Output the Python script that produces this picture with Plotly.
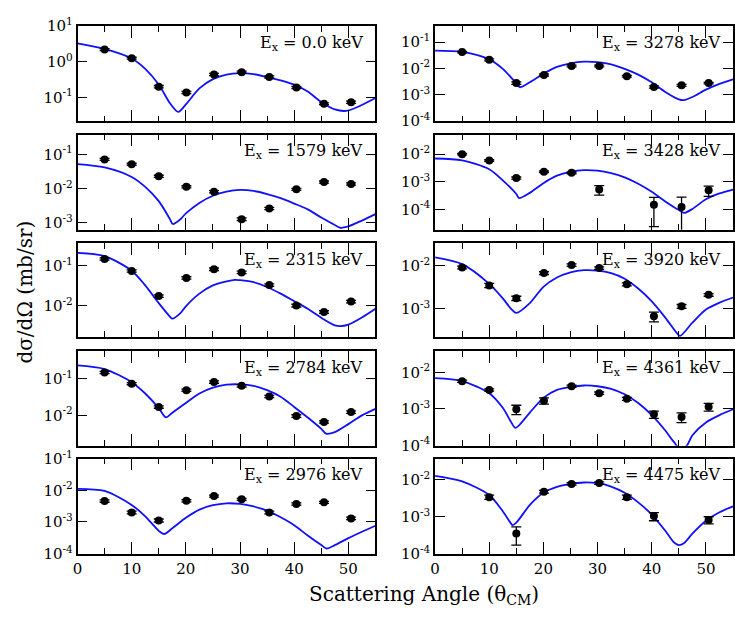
import plotly.graph_objects as go

# ---------------- data ----------------
angles10 = [5.0, 10.0, 15.0, 20.1, 25.2, 30.3, 35.4, 40.4, 45.5, 50.5]

# Ex = 0.0 keV
e0000_x = angles10
e0000_y = [2.2, 1.26, 0.2, 0.137, 0.44, 0.51, 0.375, 0.19, 0.066, 0.073]
e0000_err = [0.15, 0.08, 0.015, 0.01, 0.03, 0.035, 0.025, 0.013, 0.004, 0.005]
e0000_tx = [0, 5, 10, 12.5, 15, 17, 18.6, 20, 22.5, 25, 27.5, 30, 32.5, 35, 37.5, 40, 42.5, 45, 47.5, 49.6, 52, 55]
e0000_ty = [3.31, 2.29, 1.23, 0.631, 0.229, 0.0708, 0.0389, 0.0631, 0.178, 0.324, 0.437, 0.479, 0.447, 0.372,
            0.302, 0.229, 0.145, 0.0741, 0.0457, 0.0417, 0.0562, 0.0955]

# Ex = 1579 keV
e1579_x = angles10
e1579_y = [0.072, 0.052, 0.023, 0.0113, 0.0081, 0.00126, 0.0026, 0.0095, 0.0156, 0.0137]
e1579_err = [0.005, 0.0035, 0.0016, 0.0008, 0.0006, 0.00012, 0.0002, 0.0007, 0.0011, 0.001]
e1579_tx = [0, 5, 10, 12.5, 15, 17, 17.6, 19, 20, 22.5, 25, 27.5, 30, 32.5, 35, 37.5, 40, 42.5, 45, 47.5, 48.5, 50, 52.5, 55]
e1579_ty = [0.0525, 0.0417, 0.0219, 0.0112, 0.00427, 0.00132, 0.000912, 0.00126, 0.00186, 0.0038, 0.00617,
            0.00813, 0.00912, 0.00851, 0.00692, 0.00525, 0.00363, 0.00245, 0.00141, 0.000851, 0.000708,
            0.000776, 0.00115, 0.00178]

# Ex = 2315 keV
e2315_x = angles10
e2315_y = [0.151, 0.075, 0.0174, 0.05, 0.083, 0.069, 0.033, 0.01, 0.0069, 0.0126]
e2315_err = [0.01, 0.005, 0.0013, 0.0035, 0.006, 0.005, 0.0025, 0.0008, 0.0005, 0.0009]
e2315_tx = [0, 5, 10, 12.5, 15, 17, 17.5, 19, 20, 22.5, 25, 27.5, 29, 30, 32.5, 35, 37.5, 40, 42.5, 45, 47.5, 48.5, 50, 52.5, 55]
e2315_ty = [0.214, 0.178, 0.0759, 0.0324, 0.0115, 0.00537, 0.00468, 0.00646, 0.00955, 0.02, 0.0324, 0.0407,
            0.0447, 0.0437, 0.0389, 0.0295, 0.02, 0.0129, 0.00832, 0.0049, 0.00316, 0.00302, 0.00331, 0.00501, 0.00832]

# Ex = 2784 keV
e2784_x = angles10
e2784_y = [0.15, 0.074, 0.017, 0.049, 0.082, 0.065, 0.033, 0.0096, 0.0066, 0.0123]
e2784_err = [0.01, 0.005, 0.0013, 0.0035, 0.006, 0.005, 0.0025, 0.0008, 0.0005, 0.0009]
e2784_tx = [0, 5, 10, 12.5, 15, 16.3, 17.5, 20, 22.5, 25, 27.5, 30, 32.5, 35, 37.5, 40, 42.5, 45, 45.9, 47.5, 50, 52.5, 55]
e2784_ty = [0.234, 0.186, 0.0813, 0.0398, 0.0158, 0.0088, 0.0118, 0.0219, 0.0398, 0.0575, 0.0692, 0.0708,
            0.0646, 0.049, 0.0324, 0.017, 0.00871, 0.00427, 0.00316, 0.00347, 0.00575, 0.01, 0.0151]

# Ex = 2976 keV
e2976_x = angles10
e2976_y = [0.0046, 0.002, 0.00112, 0.0047, 0.0066, 0.0052, 0.002, 0.0037, 0.0042, 0.0013]
e2976_err = [0.0004, 0.0002, 0.00012, 0.0004, 0.0005, 0.0004, 0.0002, 0.0003, 0.0003, 0.00012]
e2976_tx = [0, 5, 10, 12.5, 15, 16, 17.5, 20, 22.5, 25, 27.5, 30, 32.5, 35, 37.5, 40, 42.5, 45, 46, 47.5, 50, 52.5, 55]
e2976_ty = [0.0112, 0.00955, 0.00347, 0.00151, 0.000525, 0.000417, 0.000631, 0.00135, 0.00245, 0.00339, 0.00389,
            0.00372, 0.00309, 0.00229, 0.00141, 0.000794, 0.000372, 0.000186, 0.000145, 0.000186, 0.000309,
            0.00049, 0.000759]

# Ex = 3278 keV
e3278_x = angles10
e3278_y = [0.042, 0.0214, 0.0028, 0.0057, 0.0125, 0.0125, 0.0051, 0.002, 0.0023, 0.0028]
e3278_err = [0.003, 0.0017, 0.0003, 0.0005, 0.0009, 0.0009, 0.0004, 0.0002, 0.0002, 0.0002]
e3278_tx = [0, 5, 10, 12.5, 15, 15.7, 17.5, 20, 22.5, 25, 27.5, 30, 32.5, 35, 37.5, 40, 42.5, 45, 45.9, 47.5, 50, 52.5, 55]
e3278_ty = [0.0482, 0.0427, 0.0224, 0.00977, 0.00275, 0.00195, 0.00302, 0.00631, 0.0115, 0.0158, 0.0182, 0.0174,
            0.0145, 0.00977, 0.00589, 0.00302, 0.00129, 0.000676, 0.000631, 0.000832, 0.00158, 0.00263, 0.00389]

# Ex = 3428 keV
e3428_x = [5.0, 10.0, 15.0, 20.1, 25.2, 30.3, 40.4, 45.5, 50.5]
e3428_y = [0.0099, 0.0059, 0.00137, 0.0023, 0.0021, 0.00053, 0.000149, 0.000123, 0.0005]
e3428_err = [0.0006, 0.0004, 0.00012, 0.00015, 0.00015, 0.0002, 0.000125, 0.000155, 0.0002]
e3428_tx = [0, 5, 10, 12.5, 15, 15.5, 17.5, 20, 22.5, 25, 27.5, 30, 32.5, 35, 37.5, 40, 42.5, 45, 46, 47.5, 50, 52.5, 55]
e3428_ty = [0.00692, 0.00589, 0.00282, 0.00112, 0.000363, 0.000257, 0.000398, 0.000891, 0.00166, 0.00229,
            0.00263, 0.00251, 0.00204, 0.00145, 0.000851, 0.000437, 0.000195, 0.0000955, 0.0000759, 0.000105,
            0.000234, 0.00038, 0.000525]

# Ex = 3920 keV
e3920_x = angles10
e3920_y = [0.0092, 0.0035, 0.00175, 0.0068, 0.0105, 0.0089, 0.0037, 0.00066, 0.00113, 0.0021]
e3920_err = [0.0007, 0.0004, 0.0002, 0.0005, 0.0007, 0.0006, 0.0003, 0.00017, 0.00012, 0.00015]
e3920_tx = [0, 5, 10, 12.5, 14, 15, 17.5, 20, 22.5, 25, 27.5, 30, 32.5, 35, 37.5, 40, 42.5, 44.5, 45.2, 47.5, 50, 52.5, 55]
e3920_ty = [0.0158, 0.011, 0.0038, 0.00174, 0.001, 0.000794, 0.00135, 0.00324, 0.00537, 0.00708, 0.00794,
            0.00776, 0.00676, 0.00501, 0.00295, 0.00148, 0.000617, 0.000282, 0.000229, 0.000468, 0.000955,
            0.00138, 0.00182]

# Ex = 4361 keV
e4361_x = angles10
e4361_y = [0.0057, 0.0033, 0.00098, 0.00168, 0.0042, 0.0027, 0.0019, 0.00071, 0.0006, 0.00114]
e4361_err = [0.0004, 0.00025, 0.00028, 0.00033, 0.0003, 0.0002, 0.00018, 0.00016, 0.00018, 0.00027]
e4361_tx = [0, 5, 10, 12.5, 14, 14.8, 15.5, 17.5, 20, 22.5, 25, 27.5, 30, 32.5, 35, 37.5, 40, 42.5, 44, 45.3, 46.5, 47.5, 50, 52.5, 55]
e4361_ty = [0.00692, 0.00575, 0.00269, 0.00107, 0.000447, 0.000302, 0.000355, 0.000794, 0.002, 0.00331, 0.00398,
            0.00437, 0.00417, 0.00355, 0.00251, 0.00145, 0.000676, 0.000257, 0.000129, 0.0000794, 0.0001,
            0.000191, 0.000427, 0.000676, 0.000977]

# Ex = 4475 keV
e4475_x = [10.0, 15.0, 20.1, 25.2, 30.3, 35.4, 40.4, 50.5]
e4475_y = [0.0034, 0.00035, 0.0048, 0.0078, 0.0082, 0.0034, 0.00104, 0.00082]
e4475_err = [0.00045, 0.00018, 0.0004, 0.0006, 0.0006, 0.00045, 0.00026, 0.00018]
e4475_tx = [0, 5, 10, 12.5, 14, 14.3, 15, 17.5, 20, 22.5, 25, 27.5, 30, 32.5, 35, 37.5, 40, 42.5, 44, 45, 46, 47.5, 50, 52.5, 55]
e4475_ty = [0.0129, 0.00912, 0.00389, 0.00141, 0.000661, 0.000589, 0.000692, 0.00209, 0.00447, 0.00646, 0.00776,
            0.00851, 0.00813, 0.00661, 0.00447, 0.00245, 0.00115, 0.000417, 0.000209, 0.00017, 0.000195,
            0.000347, 0.000776, 0.00132, 0.00191]

labels = ["0.0", "3278", "1579", "3428", "2315", "3920", "2784", "4361", "2976", "4475"]

# y axis ranges (log10 exponents) per panel, row-major order
yranges = [[-1.675, 1.005], [-4.005, -0.385],
           [-3.21, -0.415], [-4.73, -1.30],
           [-2.80, -0.415], [-3.67, -1.46],
           [-2.83, -0.23], [-4.005, -1.41],
           [-4.005, -0.995], [-4.005, -1.42]]
ytickexps = [[1, 0, -1], [-1, -2, -3, -4],
             [-1, -2, -3], [-2, -3, -4],
             [-1, -2], [-2, -3],
             [-1, -2], [-2, -3, -4],
             [-1, -2, -3, -4], [-2, -3, -4]]
xticks = [0, 10, 20, 30, 40, 50]

panels = [
    (e0000_x, e0000_y, e0000_err, e0000_tx, e0000_ty),
    (e3278_x, e3278_y, e3278_err, e3278_tx, e3278_ty),
    (e1579_x, e1579_y, e1579_err, e1579_tx, e1579_ty),
    (e3428_x, e3428_y, e3428_err, e3428_tx, e3428_ty),
    (e2315_x, e2315_y, e2315_err, e2315_tx, e2315_ty),
    (e3920_x, e3920_y, e3920_err, e3920_tx, e3920_ty),
    (e2784_x, e2784_y, e2784_err, e2784_tx, e2784_ty),
    (e4361_x, e4361_y, e4361_err, e4361_tx, e4361_ty),
    (e2976_x, e2976_y, e2976_err, e2976_tx, e2976_ty),
    (e4475_x, e4475_y, e4475_err, e4475_tx, e4475_ty),
]

# ---------------- layout ----------------
W, H = 735, 626
col_px = [(73, 373), (433, 733)]
row_px = [(15.5, 114), (127.7, 226), (239.5, 337), (351, 449), (462.3, 560.7)]
FONT = "DejaVu Serif"

fig = go.Figure()
layout = dict(
    width=W, height=H, margin=dict(l=0, r=0, t=0, b=0),
    paper_bgcolor="white", plot_bgcolor="white", showlegend=False,
    font=dict(family=FONT, size=15, color="black"),
)
annotations = []

for k, (px, py, perr, tx, ty) in enumerate(panels):
    i = k + 1
    r, c = divmod(k, 2)
    xs = "" if i == 1 else str(i)
    fig.add_trace(go.Scatter(
        x=tx, y=ty, mode="lines",
        line=dict(color="#1010ff", width=1.8, shape="spline", smoothing=0.8),
        xaxis="x" + xs, yaxis="y" + xs, hoverinfo="skip"))
    fig.add_trace(go.Scatter(
        x=px, y=py, mode="markers",
        marker=dict(color="black", size=8),
        error_y=dict(type="data", array=perr, visible=True, color="black", thickness=1.3, width=5),
        xaxis="x" + xs, yaxis="y" + xs))
    x0, x1 = col_px[c]
    y0, y1 = row_px[r]
    bottom = (r == 4)
    layout["xaxis" + xs] = dict(
        domain=[x0 / W, x1 / W], anchor="y" + xs, range=[0, 55],
        tickvals=xticks, ticks="inside", ticklen=12, tickwidth=1.3, tickcolor="black",
        minor=dict(dtick=5, tick0=0, ticks="inside", ticklen=6, tickwidth=1.3, tickcolor="black"),
        showticklabels=bottom, tickfont=dict(family=FONT, size=15),
        showline=True, linecolor="black", linewidth=1.5, mirror="ticks",
        showgrid=False, zeroline=False,
    )
    layout["yaxis" + xs] = dict(
        domain=[1 - y1 / H, 1 - y0 / H], anchor="x" + xs, type="log", range=yranges[k],
        tickvals=[10 ** e for e in ytickexps[k]],
        ticktext=["10<sup>%d</sup>" % e for e in ytickexps[k]],
        ticks="inside", ticklen=10, tickwidth=1.3, tickcolor="black",
        tickfont=dict(family=FONT, size=15),
        showline=True, linecolor="black", linewidth=1.5, mirror="ticks",
        showgrid=False, zeroline=False,
    )
    annotations.append(dict(
        text="E<sub>x</sub> = %s keV" % labels[k],
        xref="x%s domain" % xs, yref="y%s domain" % xs,
        x=0.965, y=0.95, xanchor="right", yanchor="top", showarrow=False,
        font=dict(family=FONT, size=16, color="black")))

annotations.append(dict(
    text="dσ/dΩ (mb/sr)", xref="paper", yref="paper", x=20 / W, y=1 - 290 / H,
    textangle=-90, showarrow=False, xanchor="center", yanchor="middle",
    font=dict(family=FONT, size=20, color="black")))
annotations.append(dict(
    text="Scattering Angle (θ<sub>CM</sub>)", xref="paper", yref="paper", x=422 / W, y=1 - 603 / H,
    showarrow=False, xanchor="center", yanchor="middle",
    font=dict(family=FONT, size=20, color="black")))

layout["annotations"] = annotations
fig.update_layout(**layout)
fig.write_html("out.html")
